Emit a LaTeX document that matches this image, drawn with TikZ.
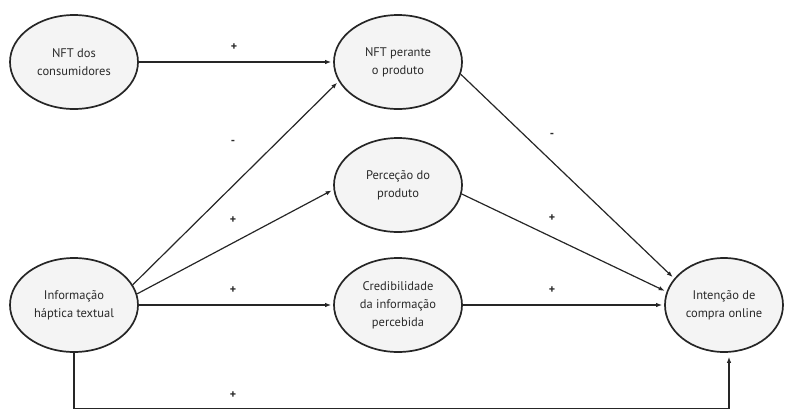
\documentclass[tikz,border=0pt]{standalone}
\usepackage{fontspec}
\setmainfont{PT Sans}
\usetikzlibrary{shapes.geometric,arrows.meta}
\definecolor{ellfill}{HTML}{F4F4F4}
\definecolor{txt}{HTML}{2A2A2A}
\begin{document}
\begin{tikzpicture}[x=1pt,y=-1pt,
  construct/.style={ellipse,draw=black!85,line width=1.7pt,fill=ellfill,
    minimum width=128pt,minimum height=94pt,inner sep=0pt,align=center,
    text=txt,font=\fontsize{12.5}{18}\selectfont},
  path/.style={line width=1.2pt,draw=black!85,-{Latex[length=6pt,width=4.5pt]},shorten >=2pt},
  sign/.style={font=\fontsize{12}{12}\selectfont\bfseries,text=txt,inner sep=0pt}]
\useasboundingbox (0,0) rectangle (785,410);
\node[construct] (nftc) at (74,62) {NFT dos\\consumidores};
\node[construct] (nftp) at (398,62) {NFT perante\\o produto};
\node[construct] (perc) at (398,185) {Perceção do\\produto};
\node[construct] (cred) at (398,305) {Credibilidade\\da informação\\percebida};
\node[construct] (info) at (74,305) {Informação\\háptica textual};
\node[construct,minimum width=118pt] (int) at (724,305) {Intenção de\\compra online};
\coordinate (bl) at (74,408.5);
\coordinate (br) at (729,408.5);
\draw[path] (nftc.east) -- (nftp.west);
\draw[path] (info.19) -- (nftp.198);
\draw[path] (info.10) -- (perc.184);
\draw[path] (info.east) -- (cred.west);
\draw[path] (nftp.349) -- (int.152);
\draw[path] (perc.352) -- (int.167);
\draw[path] (cred.east) -- (int.west);
\draw[path,shorten >=4pt] (info.south) -- (bl) -- (br) -- (br |- int.south);
\node[sign] (s1) at (234,47) {+};
\node[sign] (s2) at (233,142) {-};
\node[sign] (s3) at (233,220) {+};
\node[sign] (s4) at (233,290) {+};
\node[sign] (s5) at (233,395) {+};
\node[sign] (s6) at (552,135) {-};
\node[sign] (s7) at (552,218) {+};
\node[sign] (s8) at (552,290) {+};
\end{tikzpicture}
\end{document}
